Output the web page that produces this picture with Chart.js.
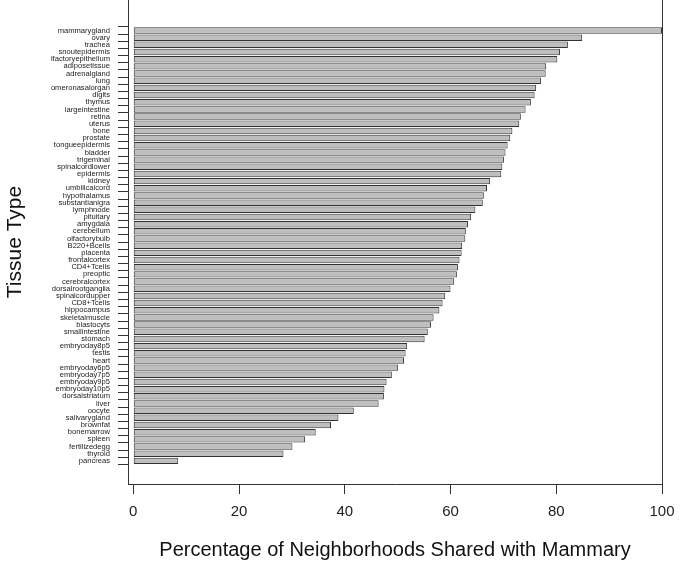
<!DOCTYPE html>
<html>
<head>
<meta charset="utf-8">
<script src="https://cdn.jsdelivr.net/npm/chart.js@4/dist/chart.umd.min.js"></script>
<style>
  body { margin: 0; background: #fff; }
  #wrap { width: 681px; height: 568px; }
</style>
</head>
<body>
<div id="wrap"><canvas id="tissueChart"></canvas></div>
<script>
const tissues = ['mammarygland', 'ovary', 'trachea', 'snoutepidermis', 'olfactoryepithelium', 'adiposetissue',
    'adrenalgland', 'lung', 'vomeronasalorgan', 'digits', 'thymus', 'largeintestine', 'retina', 'uterus', 'bone',
    'prostate', 'tongueepidermis', 'bladder', 'trigeminal', 'spinalcordlower', 'epidermis', 'kidney',
    'umbilicalcord', 'hypothalamus', 'substantianigra', 'lymphnode', 'pituitary', 'amygdala', 'cerebellum',
    'olfactorybulb', 'B220+Bcells', 'placenta', 'frontalcortex', 'CD4+Tcells', 'preoptic', 'cerebralcortex',
    'dorsalrootganglia', 'spinalcordupper', 'CD8+Tcells', 'hippocampus', 'skeletalmuscle', 'blastocyts',
    'smallintestine', 'stomach', 'embryoday8p5', 'testis', 'heart', 'embryoday6p5', 'embryoday7p5',
    'embryoday9p5', 'embryoday10p5', 'dorsalstriatum', 'liver', 'oocyte', 'salivarygland', 'brownfat',
    'bonemarrow', 'spleen', 'fertilizedegg', 'thyroid', 'pancreas'];

const shared = [100, 84.9, 82.2, 80.7, 80.2, 78.1,
    78.0, 77.1, 76.2, 75.9, 75.2, 74.2, 73.3, 73.0, 71.7,
    71.3, 70.8, 70.4, 70.1, 69.8, 69.6, 67.5,
    66.9, 66.3, 66.1, 64.7, 63.9, 63.3, 62.9,
    62.8, 62.2, 62.1, 61.7, 61.4, 61.2, 60.7,
    60.0, 59.0, 58.5, 57.9, 56.8, 56.3,
    55.7, 55.1, 51.8, 51.5, 51.2, 50.1, 48.9,
    47.9, 47.5, 47.4, 46.4, 41.7, 38.8, 37.4,
    34.5, 32.5, 30.1, 28.4, 8.5];

const xTicks = [0, 20, 40, 60, 80, 100];

const ink = '#333';
Chart.defaults.font.family = '"Liberation Sans", Arial, Helvetica, sans-serif';
Chart.defaults.color = '#222';

// R style frame: right line, long labels cut at the left like the original
const frame = {
    id: 'frame',
    afterDatasetsDraw(chart) {
        const ctx = chart.ctx;
        ctx.save();
        ctx.beginPath();
        ctx.rect(51, 0, chart.width, chart.height);
        ctx.clip();
    },
    afterDraw(chart) {
        const ctx = chart.ctx;
        ctx.restore();
        const a = chart.chartArea;
        ctx.save();
        ctx.strokeStyle = ink;
        ctx.lineWidth = 1;
        ctx.beginPath();
        ctx.moveTo(Math.round(a.right) + 0.5, a.top);
        ctx.lineTo(Math.round(a.right) + 0.5, a.bottom);
        ctx.stroke();
        ctx.restore();
    }
};

new Chart(document.getElementById('tissueChart'), {
    type: 'bar',
    data: {
        datasets: [{
            data: shared.map((v, i) => ({ x: v, y: i })),
            backgroundColor: '#bebebe',
            borderColor: ink,
            borderWidth: 1,
            borderSkipped: false,
            barPercentage: 0.9,
            categoryPercentage: 1
        }]
    },
    options: {
        indexAxis: 'y',
        responsive: true,
        maintainAspectRatio: false,
        animation: false,
        layout: { padding: { left: 0, right: 19, top: 0, bottom: 0 } },
        plugins: {
            legend: { display: false },
            tooltip: { enabled: false }
        },
        scales: {
            x: {
                type: 'linear',
                min: -1,
                max: 100,
                afterBuildTicks: s => { s.ticks = xTicks.map(v => ({ value: v })); },
                afterFit: s => {
                    s.height = 84;
                    s.paddingLeft = 0;
                    s.paddingRight = 0;
                },
                grid: { drawOnChartArea: false, drawTicks: true, tickLength: 10, color: ink },
                border: { display: true, color: ink, width: 1 },
                ticks: { font: { size: 15 }, padding: 9, maxRotation: 0 },
                title: {
                    display: true,
                    text: 'Percentage of Neighborhoods Shared with Mammary',
                    font: { size: 20 },
                    color: '#111',
                    padding: { top: 0, bottom: 6 }
                }
            },
            y: {
                type: 'linear',
                reverse: true,
                min: -3.7,
                max: 62.67,
                afterBuildTicks: s => { s.ticks = tissues.map((t, i) => ({ value: i })); },
                afterFit: s => {
                    s.width = 128;
                    s.paddingTop = 0;
                    s.paddingBottom = 0;
                },
                grid: { drawOnChartArea: false, drawTicks: true, tickLength: 10, color: ink },
                border: { display: true, color: ink, width: 1 },
                ticks: {
                    z: 1,
                    autoSkip: false,
                    padding: 8,
                    font: { size: 7.6 },
                    color: '#222',
                    callback: v => tissues[v]
                },
                title: {
                    display: true,
                    text: 'Tissue Type',
                    font: { size: 21 },
                    color: '#111',
                    padding: { top: 3, bottom: 0 }
                }
            }
        }
    },
    plugins: [frame]
});
</script>
</body>
</html>
